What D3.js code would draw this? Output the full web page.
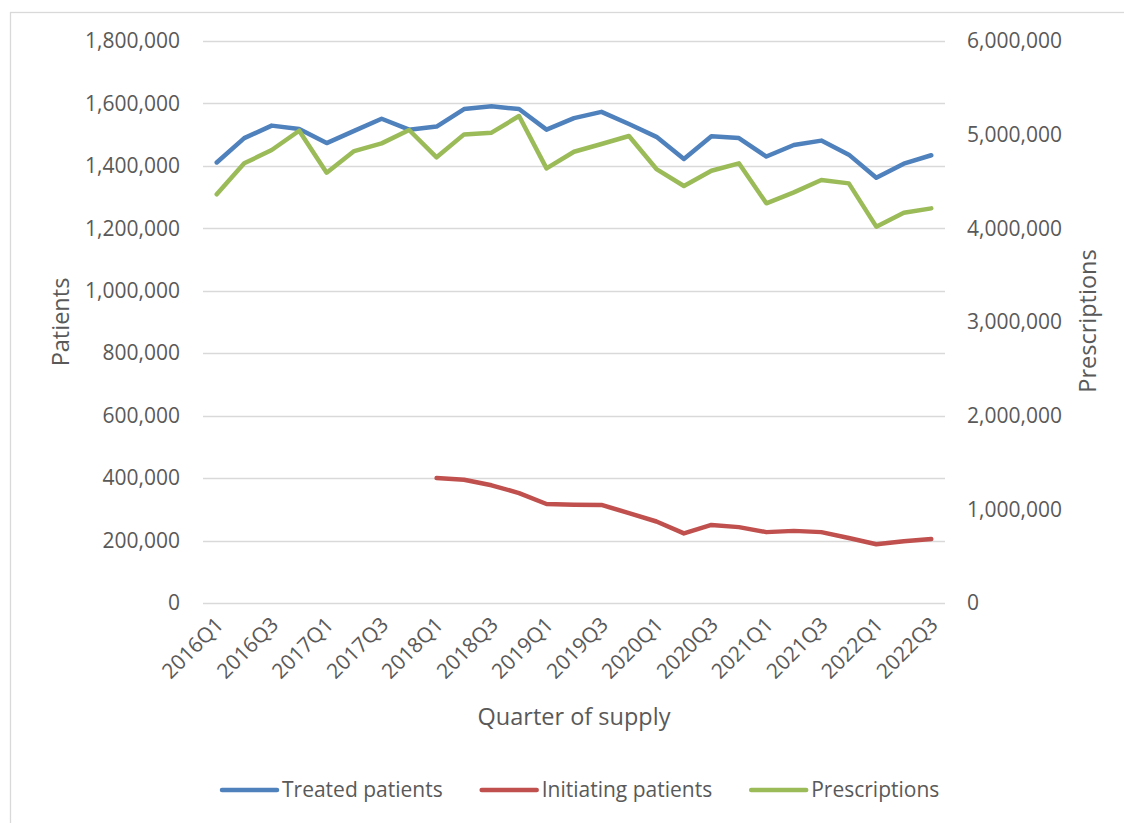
<!DOCTYPE html>
<html>
<head>
<meta charset="utf-8">
<script src="https://cdn.jsdelivr.net/npm/d3@7"></script>
<style>
  body { margin: 0; background: #fff; }
  text { font-family: "Open Sans", sans-serif; fill: #595959; }
</style>
</head>
<body>
<div id="chart"></div>
<script>
// quarters of supply
var quarters = ["2016Q1", "2016Q2", "2016Q3", "2016Q4", "2017Q1", "2017Q2", "2017Q3", "2017Q4",
  "2018Q1", "2018Q2", "2018Q3", "2018Q4", "2019Q1", "2019Q2", "2019Q3", "2019Q4",
  "2020Q1", "2020Q2", "2020Q3", "2020Q4", "2021Q1", "2021Q2", "2021Q3", "2021Q4",
  "2022Q1", "2022Q2", "2022Q3"];

// left axis series (patients)
var treatedPatients = [1411000, 1489000, 1529000, 1518000, 1473000, 1512000, 1551000, 1516000,
  1526000, 1582000, 1591000, 1582000, 1516000, 1553000, 1573000, 1534000,
  1493000, 1422000, 1495000, 1489000, 1430000, 1467000, 1481000, 1436000,
  1362000, 1407000, 1434000];

var initiatingPatients = [null, null, null, null, null, null, null, null,
  400000, 395000, 377000, 352000, 317000, 315000, 314000, 288000,
  261000, 223000, 250000, 243000, 227000, 231000, 227000, 208000,
  188000, 198000, 205000];

// right axis series
var prescriptions = [4363000, 4694000, 4836000, 5042000, 4594000, 4825000, 4907000, 5050000,
  4758000, 5003000, 5021000, 5199000, 4640000, 4818000, 4900000, 4986000,
  4633000, 4452000, 4615000, 4694000, 4267000, 4384000, 4516000, 4480000,
  4018000, 4167000, 4213000];

var leftTicks = [0, 200000, 400000, 600000, 800000, 1000000, 1200000, 1400000, 1600000, 1800000];
var rightTicks = [0, 1000000, 2000000, 3000000, 4000000, 5000000, 6000000];

var svgWidth = 1124;
var svgHeight = 823;

var plot = { left: 203, right: 945, top: 41, bottom: 603 };

var svg = d3.select("#chart")
  .append("svg")
  .attr("width", svgWidth)
  .attr("height", svgHeight);

// chart frame (runs off the right and bottom edge)
svg.append("rect")
  .attr("x", 10.5)
  .attr("y", 12.5)
  .attr("width", svgWidth)
  .attr("height", svgHeight)
  .attr("fill", "none")
  .attr("stroke", "#d9d9d9")
  .attr("stroke-width", 1.3);

// scales
var xScale = d3.scaleBand()
  .domain(quarters)
  .range([plot.left, plot.right]);

var xPos = function(q) { return xScale(q) + xScale.bandwidth() / 2; };

var yLeft = d3.scaleLinear()
  .domain([0, 1800000])
  .range([plot.bottom, plot.top]);

var yRight = d3.scaleLinear()
  .domain([0, 6000000])
  .range([plot.bottom, plot.top]);

var fmt = d3.format(",");

// gridlines
svg.append("g")
  .selectAll("line")
  .data(leftTicks)
  .enter()
  .append("line")
  .attr("x1", plot.left)
  .attr("x2", plot.right)
  .attr("y1", d => Math.round(yLeft(d)) + 0.5)
  .attr("y2", d => Math.round(yLeft(d)) + 0.5)
  .attr("stroke", "#d9d9d9")
  .attr("stroke-width", 1.3);

// left axis
var leftAxis = d3.axisLeft(yLeft)
  .tickValues(leftTicks)
  .tickFormat(fmt)
  .tickSize(0)
  .tickPadding(0);

svg.append("g")
  .attr("transform", "translate(180,0)")
  .call(leftAxis)
  .call(g => g.select(".domain").remove())
  .selectAll("text")
  .attr("font-size", "21px")
  .attr("fill", "#595959")
  .style("font-family", "'Open Sans', sans-serif");

// right axis
var rightAxis = d3.axisRight(yRight)
  .tickValues(rightTicks)
  .tickFormat(fmt)
  .tickSize(0)
  .tickPadding(0);

svg.append("g")
  .attr("transform", "translate(967,0)")
  .call(rightAxis)
  .call(g => g.select(".domain").remove())
  .selectAll("text")
  .attr("font-size", "21px")
  .attr("fill", "#595959")
  .style("font-family", "'Open Sans', sans-serif");

// x tick labels, every second quarter, rotated
svg.append("g")
  .selectAll("text")
  .data(quarters.filter((q, i) => i % 2 === 0))
  .enter()
  .append("text")
  .attr("transform", d => `translate(${xPos(d) + 8}, 626) rotate(-45)`)
  .attr("text-anchor", "end")
  .attr("font-size", "21px")
  .text(d => d);

// lines
var lineLeft = d3.line()
  .defined(d => d.v !== null)
  .x(d => xPos(d.q))
  .y(d => yLeft(d.v));

var lineRight = d3.line()
  .x(d => xPos(d.q))
  .y(d => yRight(d.v));

var seriesData = function(values) {
  return quarters.map((q, i) => ({ q: q, v: values[i] }));
};

var colors = { treated: "#4f81bd", initiating: "#c0504d", prescriptions: "#9bbb59" };

svg.append("path")
  .datum(seriesData(treatedPatients))
  .attr("d", lineLeft)
  .attr("fill", "none")
  .attr("stroke", colors.treated)
  .attr("stroke-width", 4.5)
  .attr("stroke-linejoin", "round")
  .attr("stroke-linecap", "round");

svg.append("path")
  .datum(seriesData(initiatingPatients))
  .attr("d", lineLeft)
  .attr("fill", "none")
  .attr("stroke", colors.initiating)
  .attr("stroke-width", 4.5)
  .attr("stroke-linejoin", "round")
  .attr("stroke-linecap", "round");

svg.append("path")
  .datum(seriesData(prescriptions))
  .attr("d", lineRight)
  .attr("fill", "none")
  .attr("stroke", colors.prescriptions)
  .attr("stroke-width", 4.5)
  .attr("stroke-linejoin", "round")
  .attr("stroke-linecap", "round");

// axis titles
svg.append("text")
  .attr("transform", "translate(69, 322) rotate(-90)")
  .attr("text-anchor", "middle")
  .attr("font-size", "23.5px")
  .text("Patients");

svg.append("text")
  .attr("transform", "translate(1096, 321) rotate(-90)")
  .attr("text-anchor", "middle")
  .attr("font-size", "23.5px")
  .text("Prescriptions");

svg.append("text")
  .attr("x", 574)
  .attr("y", 725)
  .attr("text-anchor", "middle")
  .attr("font-size", "23.5px")
  .text("Quarter of supply");

// legend
var legendItems = [
  { name: "Treated patients", color: colors.treated },
  { name: "Initiating patients", color: colors.initiating },
  { name: "Prescriptions", color: colors.prescriptions }
];

var legend = svg.append("g");
var lx = 222;
legendItems.forEach(function(item) {
  legend.append("line")
    .attr("x1", lx)
    .attr("x2", lx + 55)
    .attr("y1", 790)
    .attr("y2", 790)
    .attr("stroke", item.color)
    .attr("stroke-width", 4.5)
    .attr("stroke-linecap", "round");
  var t = legend.append("text")
    .attr("x", lx + 60)
    .attr("y", 797)
    .attr("font-size", "21px")
    .text(item.name);
  lx = lx + 60 + t.node().getComputedTextLength() + 39;
});
</script>
</body>
</html>
